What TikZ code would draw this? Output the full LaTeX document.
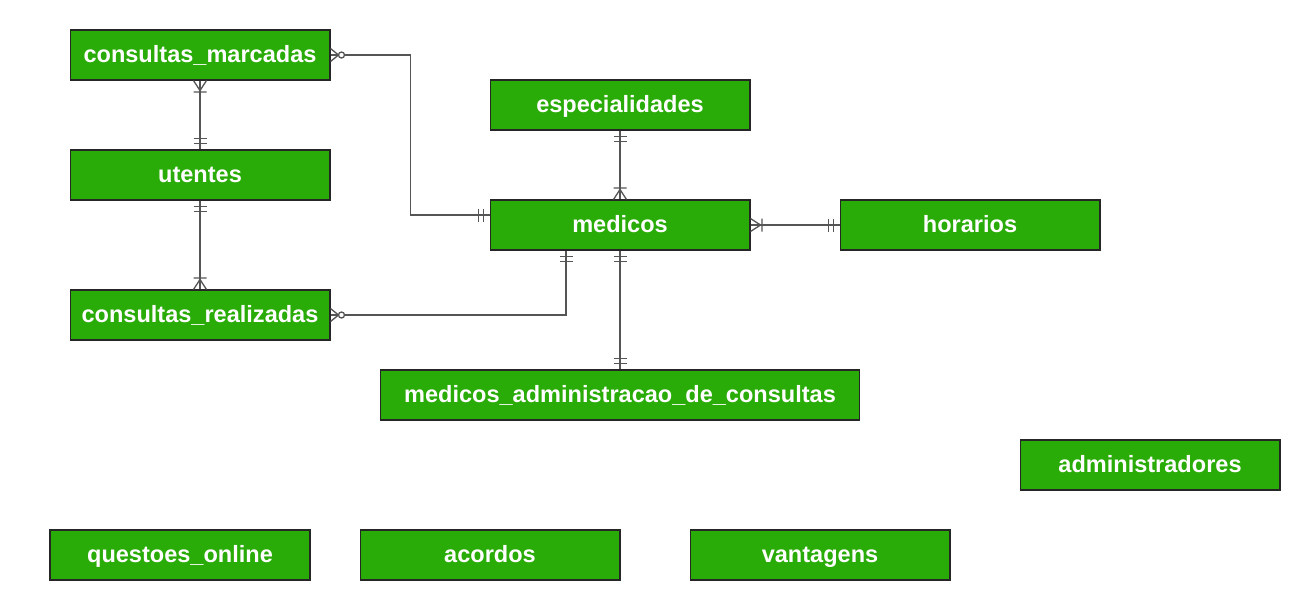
\documentclass[tikz,border=0pt]{standalone}
\usepackage{fontspec}
\setmainfont{Liberation Sans}
\usepackage{tikz}
\usetikzlibrary{decorations.markings}
\definecolor{erdgreen}{RGB}{41, 172, 8}
\definecolor{relgray}{RGB}{85, 85, 85}
\newcommand{\entfont}{\bfseries\fontsize{13.4}{16}\selectfont}
% end symbols, x pointing away from the entity
\newcommand{\ertwobars}[1]{\draw[relline, xscale=#1] (0.12cm,-0.13cm) -- (0.12cm,0.13cm) (0.22cm,-0.13cm) -- (0.22cm,0.13cm);}
\newcommand{\eronemany}[1]{\draw[relline, xscale=#1] (0,-0.13cm) -- (0.2cm,0) -- (0,0.13cm) (0.23cm,-0.13cm) -- (0.23cm,0.13cm);}
\newcommand{\erzeromany}[1]{\draw[relline, xscale=#1] (0,-0.13cm) -- (0.16cm,0) -- (0,0.13cm); \filldraw[relline, fill=white, xscale=#1] (0.22cm,0) circle (0.06cm);}
\tikzset{
  entity/.style={draw=black!85, line width=0.6pt, fill=erdgreen, text=white, font=\entfont,
                 minimum width=5.2cm, minimum height=1cm, inner sep=0pt,
                 text height=11pt, text depth=2.4pt},
  relline/.style={draw=relgray, line width=0.75pt},
  emark/.style 2 args={postaction={decorate, decoration={markings, mark=at position #1 with {#2}}}},
  one start/.style={emark={0}{\ertwobars{1}}},
  one end/.style={emark={1}{\ertwobars{-1}}},
  many start/.style={emark={0}{\eronemany{1}}},
  many end/.style={emark={1}{\eronemany{-1}}},
  zmany start/.style={emark={0}{\erzeromany{1}}},
  zmany end/.style={emark={1}{\erzeromany{-1}}}
}
\begin{document}
\begin{tikzpicture}[x=0.02cm, y=-0.02cm]
  \useasboundingbox (0,0) rectangle (1300,600);
  % Entities
  \node[entity] (marcadas)   at (200, 55)  {consultas\_marcadas};
  \node[entity] (utentes)    at (200,175)  {utentes};
  \node[entity] (realizadas) at (200,315)  {consultas\_realizadas};
  \node[entity] (espec)      at (620,105)  {especialidades};
  \node[entity] (medicos)    at (620,225)  {medicos};
  \node[entity] (horarios)   at (970,225)  {horarios};
  \node[entity, minimum width=9.6cm] (medadmin) at (620,395) {medicos\_administracao\_de\_consultas};
  \node[entity] (admins)     at (1150,465) {administradores};
  \node[entity] (questoes)   at (180,555)  {questoes\_online};
  \node[entity] (acordos)    at (490,555)  {acordos};
  \node[entity] (vantagens)  at (820,555)  {vantagens};
  % Relations
  \draw[relline, zmany start, one end] (marcadas.east) -- ++(80,0) |- ([yshift=0.2cm]medicos.west);
  \draw[relline, many start, one end]  (marcadas.south) -- (utentes.north);
  \draw[relline, one start, many end]  (utentes.south) -- (realizadas.north);
  \draw[relline, zmany start, one end] (realizadas.east) -| ([xshift=-1.08cm]medicos.south);
  \draw[relline, one start, many end]  (espec.south) -- (medicos.north);
  \draw[relline, many start, one end]  (medicos.east) -- (horarios.west);
  \draw[relline, one start, one end]   (medicos.south) -- (medadmin.north);
\end{tikzpicture}
\end{document}
